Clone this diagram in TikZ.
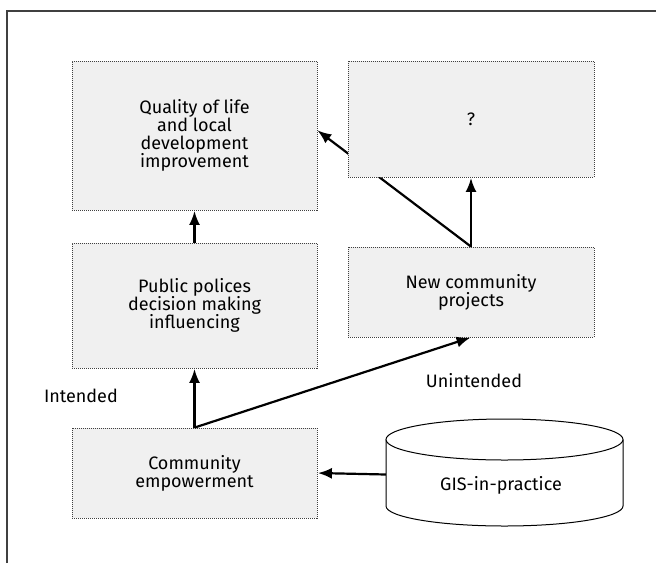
\documentclass[tikz,border=0pt]{standalone}
\usepackage{fontspec}
\setmainfont{Fira Sans}
\usetikzlibrary{arrows.meta}
\tikzset{
  box/.style={draw=black!75, fill=black!6, line width=0.8pt, dash pattern=on 1pt off 1pt,
    align=center, inner sep=0pt, font=\fontsize{18}{18}\selectfont},
  conn/.style={line width=2.2pt, -{Latex[length=14pt,width=11pt]}, shorten >=0.5pt},
  lbl/.style={font=\fontsize{18}{18}\selectfont, inner sep=0pt}
}
\begin{document}
\begin{tikzpicture}[x=1pt,y=-1pt]
\useasboundingbox (0,0) rectangle (656,563);
\draw[line width=1.2pt, black!75] (7,563) -- (7,11) -- (656,11);
\node[box, minimum width=245pt, minimum height=149pt] (Q) at (194.5,135.5) {Quality of life\\and local\\development\\improvement};
\node[box, minimum width=245pt, minimum height=125pt] (P) at (194.5,305.5) {Public polices\\decision making\\influencing};
\node[box, minimum width=246pt, minimum height=90pt] (N) at (471,292) {New community\\projects};
\node[box, minimum width=245pt, minimum height=90pt] (E) at (194.5,473) {Community\\empowerment};
\coordinate (qin) at (317,130);
\draw[conn] (N.north) -- (qin);
\node[box, minimum width=246pt, minimum height=116pt] (QM) at (471,119) {?};
% cylinder
\draw[line width=1pt, fill=white] (386,439.5) -- (386,506) arc[start angle=180, end angle=360, x radius=118.5pt, y radius=20pt] -- (623,439.5);
\draw[line width=1pt, fill=white] (504.5,439.5) ellipse [x radius=118.5pt, y radius=20.5pt];
\node[lbl, minimum width=237pt, minimum height=70pt] (G) at (504.5,474.5) {};
\node[lbl] at (501,485) {GIS-in-practice};
\node[lbl, anchor=east] (I) at (118,396) {Intended};
\node[lbl] (U) at (474,381) {Unintended};
\draw[conn] (P.north) -- (Q.south);
\draw[conn] (E.north) -- (P.south);
\draw[conn] (E.north) -- (N.south);
\draw[conn] (N.north) -- (QM.south);
\draw[conn] (G.west) -- (E.east);
\end{tikzpicture}
\end{document}
